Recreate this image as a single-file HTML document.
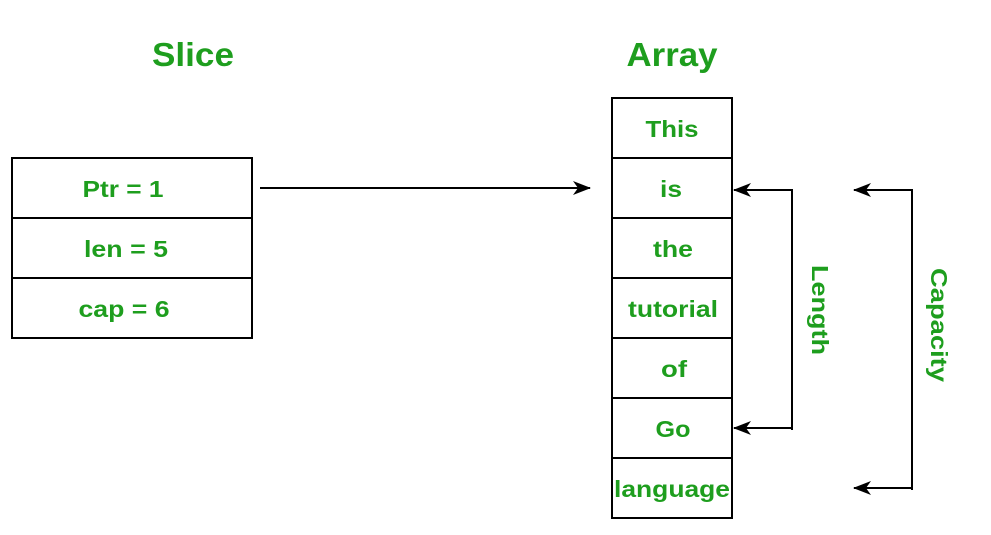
<!DOCTYPE html>
<html><head><style>
body{margin:0;background:#fff;width:991px;height:530px;overflow:hidden}
</style></head><body>
<svg width="991" height="530" xmlns="http://www.w3.org/2000/svg" font-family="Liberation Sans, sans-serif" font-weight="bold">
<defs><marker id="a" markerWidth="18" markerHeight="14" refX="17" refY="7" orient="auto" markerUnits="userSpaceOnUse"><path d="M0,0 L18,7 L0,14 L5,7 z" fill="#000"/></marker></defs>
<g fill="#1e9e1e" text-anchor="middle" font-size="33">
<text x="193" y="66" textLength="82" lengthAdjust="spacingAndGlyphs">Slice</text>
<text x="672" y="66" textLength="91" lengthAdjust="spacingAndGlyphs">Array</text>
</g>
<g fill="#fff" stroke="#000" stroke-width="2">
<rect x="12" y="158" width="240" height="60"/><rect x="12" y="218" width="240" height="60"/><rect x="12" y="278" width="240" height="60"/>
<rect x="612" y="98" width="120" height="60"/><rect x="612" y="158" width="120" height="60"/><rect x="612" y="218" width="120" height="60"/><rect x="612" y="278" width="120" height="60"/><rect x="612" y="338" width="120" height="60"/><rect x="612" y="398" width="120" height="60"/><rect x="612" y="458" width="120" height="60"/>
</g>
<g fill="#1e9e1e" text-anchor="middle" font-size="23" lengthAdjust="spacingAndGlyphs">
<text x="123" y="197" textLength="81" lengthAdjust="spacingAndGlyphs">Ptr = 1</text>
<text x="126" y="257" textLength="84" lengthAdjust="spacingAndGlyphs">len = 5</text>
<text x="124" y="317" textLength="91" lengthAdjust="spacingAndGlyphs">cap = 6</text>
<text x="672" y="137" textLength="53" lengthAdjust="spacingAndGlyphs">This</text>
<text x="671" y="197" textLength="22" lengthAdjust="spacingAndGlyphs">is</text>
<text x="673" y="257" textLength="40" lengthAdjust="spacingAndGlyphs">the</text>
<text x="673" y="317" textLength="90" lengthAdjust="spacingAndGlyphs">tutorial</text>
<text x="674" y="377" textLength="26" lengthAdjust="spacingAndGlyphs">of</text>
<text x="673" y="437" textLength="35" lengthAdjust="spacingAndGlyphs">Go</text>
<text x="672" y="497" textLength="116" lengthAdjust="spacingAndGlyphs">language</text>
<text transform="translate(812,310) rotate(90)" textLength="90" lengthAdjust="spacingAndGlyphs">Length</text>
<text transform="translate(931,325) rotate(90)" textLength="114" lengthAdjust="spacingAndGlyphs">Capacity</text>
</g>
<g stroke="#000" stroke-width="2" fill="none">
<line x1="260" y1="188" x2="590" y2="188" marker-end="url(#a)"/>
<polyline points="792,430 792,190 734,190" marker-end="url(#a)"/>
<line x1="792" y1="428" x2="734" y2="428" marker-end="url(#a)"/>
<polyline points="912,490 912,190 854,190" marker-end="url(#a)"/>
<line x1="912" y1="488" x2="854" y2="488" marker-end="url(#a)"/>
</g>
</svg>
</body></html>
